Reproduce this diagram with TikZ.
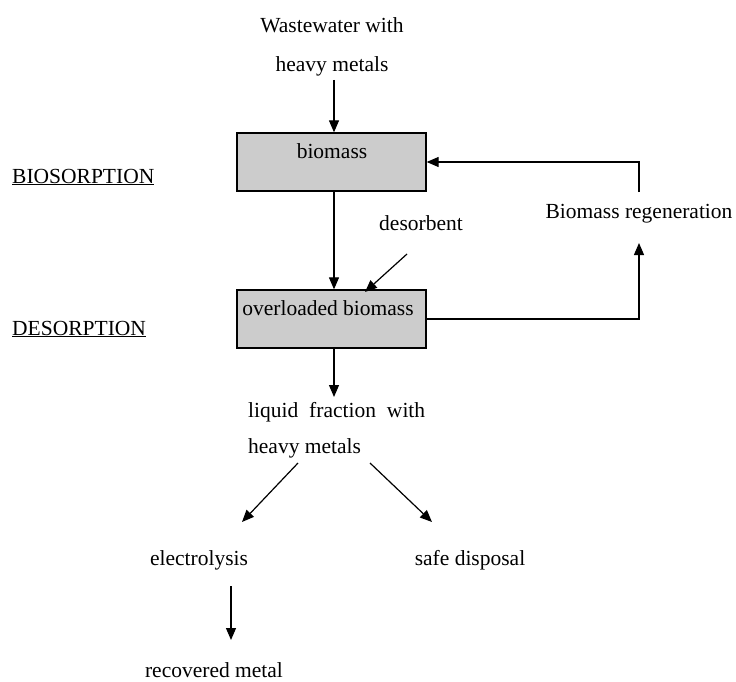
\documentclass[tikz,border=0pt]{standalone}
\usepackage{fontspec}
\setmainfont{Liberation Serif}
\usetikzlibrary{arrows.meta}
\begin{document}
\begin{tikzpicture}[x=1pt,y=-1pt,
  lbl/.style={inner sep=0pt,anchor=base,font=\fontsize{21.5}{24}\selectfont},
  lblw/.style={inner sep=0pt,anchor=base west,font=\fontsize{21.5}{24}\selectfont},
  procbox/.style={draw,line width=1.3pt,fill=black!20,minimum width=189pt,minimum height=58pt,inner sep=0pt},
  conn/.style={line width=1.2pt},
  arr/.style={conn,-{Triangle[length=12pt,width=10pt]}}]
\useasboundingbox (0,0) rectangle (736,682);
% boxes
\node[procbox] (box1) at (331.5,162) {};
\node[procbox] (box2) at (331.5,319) {};
% texts
\node[lbl] (ww1) at (332,33) {Wastewater with};
\node[lbl] (ww2) at (332,72) {heavy metals};
\node[lbl] (bio) at (332,158) {biomass};
\node[lbl] (ovl) at (328,315) {overloaded biomass};
\node[lbl] (des) at (421,230) {desorbent};
\node[lbl] (regen) at (639,218) {Biomass regeneration};
\node[lblw] (liq1) at (248,417) {\makebox[177pt][s]{liquid fraction with}};
\node[lblw] (liq2) at (248,453) {heavy metals};
\node[lbl] (elec) at (199,565) {electrolysis};
\node[lbl] (safe) at (470,565) {safe disposal};
\node[lbl] (rec) at (214,677) {recovered metal};
\node[lblw] (bs) at (12,183) {\underline{BIOSORPTION}};
\node[lblw] (ds) at (12,335) {\underline{DESORPTION}};
% connector coordinates
\coordinate (c1) at (334,80);
\coordinate (dstart) at (407,254);
\coordinate (dend) at (365,292);
\coordinate (rtop) at (639,192);
\coordinate (rbot) at (639,243);
\coordinate (lq) at (334,397);
\coordinate (ls) at (298,463);
\coordinate (le) at (242,522);
\coordinate (rs) at (370,463);
\coordinate (re) at (432,522);
\coordinate (es) at (231,586);
\coordinate (ee) at (231,640);
% connectors
\draw[arr] (c1) -- (c1 |- box1.north);
\draw[arr] (c1 |- box1.south) -- (c1 |- box2.north);
\draw[arr] (dstart) -- (dend);
\draw[arr] (box2.east) -| (rbot);
\draw[arr] (rtop) |- (box1.east);
\draw[arr] (c1 |- box2.south) -- (lq);
\draw[arr] (ls) -- (le);
\draw[arr] (rs) -- (re);
\draw[arr] (es) -- (ee);
\end{tikzpicture}
\end{document}
